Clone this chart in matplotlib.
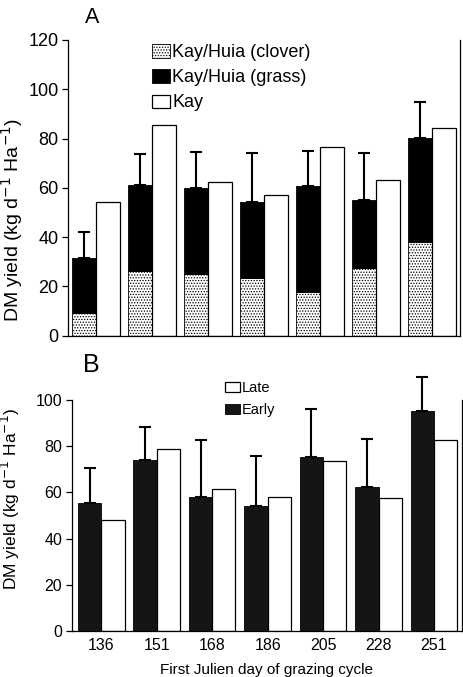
import matplotlib
matplotlib.use("Agg")
import matplotlib.pyplot as plt
import numpy as np

plt.rcParams["font.family"] = ["Liberation Sans", "DejaVu Sans"]
plt.rcParams["hatch.linewidth"] = 0.6

# panel A: mixed sward (clover + grass) vs Kay monoculture
clover = [9.3, 26.3, 25.1, 23.4, 17.6, 27.3, 38.0]
mix_total = [31.5, 61.2, 60.1, 54.3, 60.8, 55.1, 80.4]
mix_err_top = [42.2, 73.8, 74.7, 74.3, 75.1, 74.3, 95.0]
kay = [54.2, 85.5, 62.3, 57.2, 76.5, 63.1, 84.2]

# panel B: early vs late
days = ["136", "151", "168", "186", "205", "228", "251"]
early = [55.3, 74.0, 57.9, 54.1, 75.2, 62.2, 95.2]
early_err_top = [70.4, 88.4, 82.7, 75.9, 96.0, 83.1, 110.1]
late = [48.0, 78.8, 61.3, 57.9, 73.5, 57.4, 82.7]

YLABEL = "DM yield (kg d$^{-1}$ Ha$^{-1}$)"


def style_axis(ax, tick_size):
    """
    in: ax, tick_size
    out: None
    """
    ax.spines["top"].set_visible(False)
    for side in ["left", "bottom", "right"]:
        ax.spines[side].set_linewidth(0.9)
    ax.tick_params(axis="y", direction="out", length=4, width=0.9,
                   labelsize=tick_size, pad=3)
    ax.tick_params(axis="x", length=0, labelsize=tick_size, pad=5)


def draw_panel_a(ax):
    """
    in: ax
    out: None
    """
    x = np.arange(len(clover))
    w = 0.43
    grass = [t - c for t, c in zip(mix_total, clover)]
    errs = [e - t for e, t in zip(mix_err_top, mix_total)]

    ax.bar(x - w / 2, clover, w, color="white", edgecolor="black",
           hatch="......", linewidth=0.6, label="Kay/Huia (clover)")
    ax.bar(x - w / 2, grass, w, bottom=clover, color="black",
           edgecolor="black", linewidth=0.6, label="Kay/Huia (grass)")
    ax.bar(x + w / 2, kay, w, color="white", edgecolor="black",
           linewidth=0.9, label="Kay")
    ax.errorbar(x - w / 2, mix_total, yerr=[np.zeros(len(errs)), errs],
                fmt="none", ecolor="black", elinewidth=1.5, capsize=4,
                capthick=1.5, clip_on=False)

    ax.set_xlim(-0.5, 6.5)
    ax.set_ylim(0, 120)
    ax.set_yticks(range(0, 121, 20))
    ax.set_xticks([])
    ax.set_ylabel(YLABEL, fontsize=14)
    ax.yaxis.set_label_coords(-0.11, 0.39)
    style_axis(ax, 13)
    ax.legend(loc="upper left", bbox_to_anchor=(0.195, 1.01), frameon=False,
              fontsize=13, handlelength=1.0, handleheight=0.75,
              handletextpad=0.12, labelspacing=0.45, borderaxespad=0)
    ax.text(0.043, 1.057, "A", transform=ax.transAxes, fontsize=15.5,
            ha="left", va="baseline")


def draw_panel_b(ax):
    """
    in: ax
    out: None
    """
    x = np.arange(len(days))
    w = 0.42
    errs = [e - v for e, v in zip(early_err_top, early)]

    late_bars = ax.bar(x + w / 2, late, w, color="white", edgecolor="black",
                       linewidth=0.9, label="Late")
    early_bars = ax.bar(x - w / 2, early, w, color="#151515",
                        edgecolor="black", linewidth=0.6, label="Early")
    ax.errorbar(x - w / 2, early, yerr=[np.zeros(len(errs)), errs],
                fmt="none", ecolor="black", elinewidth=1.5, capsize=4,
                capthick=1.5, clip_on=False)

    ax.set_xlim(-0.53, 6.5)
    ax.set_ylim(0, 100)
    ax.set_yticks(range(0, 101, 20))
    ax.set_xticks(x)
    ax.set_xticklabels(days)
    ax.set_ylabel(YLABEL, fontsize=12.5)
    ax.yaxis.set_label_coords(-0.128, 0.57)
    ax.set_xlabel("First Julien day of grazing cycle", fontsize=11, labelpad=7)
    style_axis(ax, 11.5)
    ax.legend([late_bars, early_bars], ["Late", "Early"], loc="upper left",
              bbox_to_anchor=(0.378, 1.108), frameon=False, fontsize=10.5,
              handlelength=1.0, handleheight=0.75, handletextpad=0.15,
              labelspacing=0.55, borderaxespad=0)
    ax.text(0.028, 1.121, "B", transform=ax.transAxes, fontsize=18,
            ha="left", va="baseline")


def make_figure():
    """
    in: None
    out: None
    """
    fig = plt.figure(figsize=(4.64, 6.77), dpi=100)
    ax_a = fig.add_axes([0.147, 0.504, 0.845, 0.437])
    ax_b = fig.add_axes([0.155, 0.068, 0.84, 0.341])
    draw_panel_a(ax_a)
    draw_panel_b(ax_b)
    fig.savefig("out.png", dpi=100)


if __name__ == "__main__":
    make_figure()
